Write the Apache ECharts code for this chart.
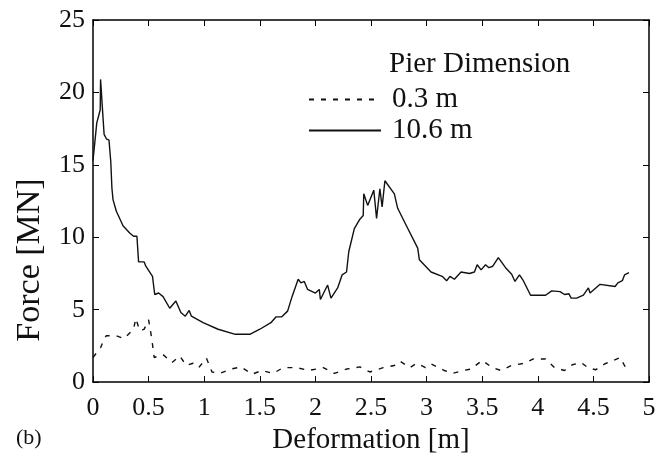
<!DOCTYPE html>
<html>
<head>
<meta charset="utf-8">
<script src="https://cdn.jsdelivr.net/npm/echarts@6/dist/echarts.min.js"></script>
<style>html,body{margin:0;padding:0;background:#fff}#c{width:663px;height:460px}</style>
</head>
<body>
<div id="c"></div>
<script>
// Series 10.6 m (solid): deformation [m], force [MN]
const solidX = [0,0.034,0.065,0.068,0.10,0.12,0.144,0.16,0.17,0.18,0.21,0.27,0.33,0.365,0.395,0.41,0.46,0.475,0.535,0.555,0.59,0.63,0.69,0.745,0.79,0.83,0.865,0.885,0.99,1.125,1.28,1.41,1.50,1.60,1.645,1.695,1.75,1.79,1.845,1.87,1.9,1.93,2.0,2.035,2.045,2.11,2.14,2.2,2.24,2.28,2.30,2.35,2.40,2.43,2.435,2.47,2.525,2.55,2.58,2.60,2.625,2.71,2.74,2.815,2.92,2.935,3.04,3.14,3.18,3.21,3.25,3.31,3.385,3.43,3.455,3.49,3.53,3.56,3.595,3.645,3.71,3.765,3.795,3.835,3.87,3.935,4.07,4.125,4.2,4.24,4.28,4.30,4.35,4.41,4.455,4.47,4.56,4.695,4.72,4.76,4.78,4.82];
const solidY = [15.3,17.9,18.8,20.9,17.1,16.8,16.7,15.2,13.4,12.6,11.8,10.8,10.3,10.07,10.07,8.3,8.3,8.0,7.3,6.05,6.15,5.9,5.1,5.6,4.8,4.55,4.95,4.55,4.1,3.65,3.3,3.3,3.65,4.1,4.5,4.5,4.9,5.9,7.1,6.85,6.95,6.4,6.15,6.4,5.7,6.7,5.8,6.5,7.4,7.6,9.0,10.6,11.25,11.5,13.0,12.2,13.25,11.3,13.35,12.1,13.9,13.0,12.0,10.85,9.25,8.45,7.6,7.3,7.0,7.3,7.1,7.6,7.5,7.6,8.1,7.75,8.1,7.9,8.0,8.6,7.9,7.45,6.95,7.4,7.0,6.0,6.0,6.3,6.25,6.05,6.1,5.8,5.8,6.0,6.5,6.15,6.75,6.6,6.85,7.0,7.4,7.55];
// Series 0.3 m (dashed)
const dashX = [0,0.07,0.10,0.12,0.21,0.28,0.365,0.385,0.42,0.46,0.5,0.52,0.535,0.55,0.63,0.71,0.78,0.84,0.9,0.95,1.02,1.07,1.14,1.24,1.33,1.43,1.52,1.62,1.71,1.83,1.94,2.07,2.17,2.28,2.4,2.49,2.61,2.71,2.76,2.85,2.91,2.99,3.04,3.16,3.23,3.33,3.40,3.5,3.59,3.67,3.765,3.88,3.96,4.07,4.15,4.24,4.31,4.39,4.45,4.52,4.6,4.68,4.74,4.79];
const dashY = [1.7,2.4,3.0,3.2,3.2,3.0,3.65,4.4,3.55,3.65,4.3,3.4,2.6,1.7,1.9,1.35,1.8,1.15,1.3,1.0,1.65,0.7,0.6,0.9,1.05,0.55,0.8,0.6,1.0,1.0,0.8,1.0,0.6,0.9,1.05,0.7,1.0,1.15,1.45,1.0,1.3,1.0,1.25,0.8,0.6,0.8,0.9,1.5,1.0,0.8,1.15,1.3,1.6,1.6,1.0,0.8,1.2,1.35,1.0,0.85,1.25,1.5,1.7,1.0];
const xTicks = [0,0.5,1,1.5,2,2.5,3,3.5,4,4.5,5];
const yTicks = [0,5,10,15,20,25];
const seriesNames = ['0.3 m','10.6 m'];
const legendTitle = 'Pier Dimension';
const xTitle = 'Deformation [m]';
const yTitle = 'Force [MN]';
const panelLabel = '(b)';

const FONT = '"Liberation Serif", "DejaVu Serif", serif';
const chart = echarts.init(document.getElementById('c'), null, {renderer:'canvas'});
const axisLine = {show:true, onZero:false, lineStyle:{color:'#000', width:1.5}};
const tick = {show:true, inside:true, length:6, lineStyle:{color:'#000', width:1}};
const xLabelFmt = v => xTicks.includes(+v.toFixed(2)) ? String(v) : '';
const base = {min:0, splitLine:{show:false}, axisLine, axisTick:tick};
chart.setOption({
  animation:false,
  backgroundColor:'#fff',
  grid:{left:93, right:14, top:20, bottom:74},
  title:{text:legendTitle, left:384, top:45, textStyle:{fontFamily:FONT, fontSize:29, fontWeight:'normal', color:'#111'}},
  legend:{orient:'vertical', left:303, top:80, itemWidth:72, itemHeight:14, itemGap:2,
    data:seriesNames, itemStyle:{opacity:0},
    textStyle:{fontFamily:FONT, fontSize:29, color:'#111', padding:[0,0,0,6]}},
  graphic:[
    {type:'text', left:16, top:427, style:{text:panelLabel, font:'22px '+FONT, fill:'#111'}},
    {type:'text', x:30, y:260, rotation:Math.PI/2,
     style:{text:yTitle, font:'34px '+FONT, fill:'#111', align:'center', verticalAlign:'middle'}}
  ],
  xAxis:[
    Object.assign({}, base, {type:'value', position:'bottom', max:5, interval:0.5,
      name:xTitle, nameLocation:'middle', nameGap:40,
      nameTextStyle:{fontFamily:FONT, fontSize:29, color:'#111'},
      axisLabel:{fontFamily:FONT, fontSize:26, color:'#111', margin:13, formatter:xLabelFmt}}),
    Object.assign({}, base, {type:'value', position:'top', max:5, interval:0.5, axisLabel:{show:false}})
  ],
  yAxis:[
    Object.assign({}, base, {type:'value', position:'left', max:25, interval:5,
      axisLabel:{fontFamily:FONT, fontSize:26, color:'#111', margin:8}}),
    Object.assign({}, base, {type:'value', position:'right', max:25, interval:5, axisLabel:{show:false}})
  ],
  series:[
    {name:seriesNames[0], type:'line', showSymbol:false, symbol:'none',
     data:dashX.map((x,i)=>[x,dashY[i]]),
     lineStyle:{color:'#111', width:1.4, type:[5,7]}, itemStyle:{color:'#111'}},
    {name:seriesNames[1], type:'line', showSymbol:false, symbol:'none',
     data:solidX.map((x,i)=>[x,solidY[i]]),
     lineStyle:{color:'#111', width:1.4}, itemStyle:{color:'#111'}}
  ]
});
</script>
</body>
</html>
